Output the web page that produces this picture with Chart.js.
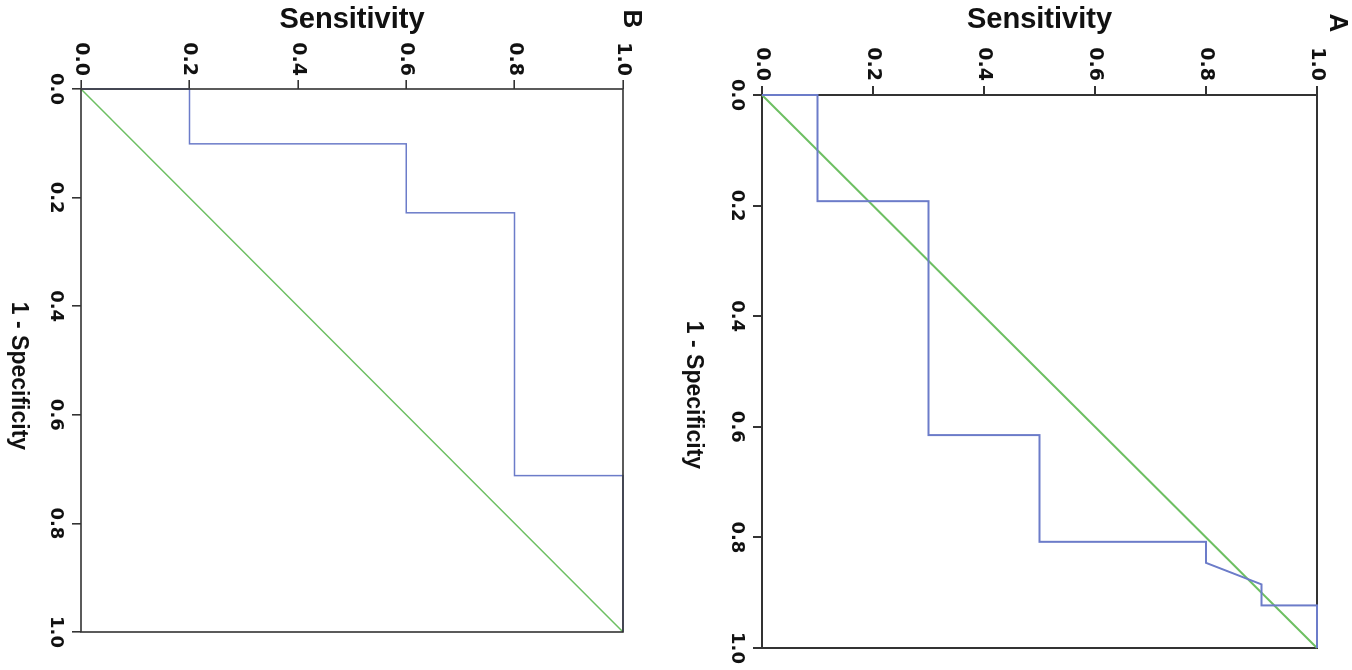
<!DOCTYPE html>
<html>
<head>
<meta charset="utf-8">
<title>ROC curves A and B</title>
<script src="https://cdn.jsdelivr.net/npm/chart.js@4.4.1/dist/chart.umd.min.js"></script>
<style>
  html, body { margin: 0; padding: 0; background: #fff; }
  body { width: 1352px; height: 670px; position: relative; overflow: hidden; }
  /* the whole figure is turned a quarter turn clockwise */
  .panel { position: absolute; top: 0; transform-origin: 0 0; transform: rotate(90deg); }
  .panel canvas { display: block; }
</style>
</head>
<body>
<div class="panel" style="left:660px; width:670px; height:660px;"><canvas id="rocB" width="670" height="660"></canvas></div>
<div class="panel" style="left:1352px; width:670px; height:682px;"><canvas id="rocA" width="670" height="682"></canvas></div>
<script>
const tickValues = [0, 0.2, 0.4, 0.6, 0.8, 1.0];
const diagonalX = [0, 1];
const diagonalY = [0, 1];

// Panel A: 1 - specificity / sensitivity
const fprA = [0, 0, 0.192, 0.192, 0.615, 0.615, 0.808, 0.808, 0.846, 0.885, 0.923, 0.923, 1];
const sensA = [0, 0.1, 0.1, 0.3, 0.3, 0.5, 0.5, 0.8, 0.8, 0.9, 0.9, 1.0, 1.0];

// Panel B
const fprB = [0, 0, 0.101, 0.101, 0.228, 0.228, 0.712, 0.712, 1];
const sensB = [0, 0.2, 0.2, 0.6, 0.6, 0.8, 0.8, 1.0, 1.0];

const toPoints = (xs, ys) => xs.map((x, i) => ({ x: x, y: ys[i] }));

function drawFrame(chart, opts) {
    const { ctx, chartArea: a } = chart;
    ctx.save();
    ctx.strokeStyle = '#333';
    ctx.lineWidth = opts.frameWidth;
    ctx.strokeRect(a.left, a.top, a.right - a.left, a.bottom - a.top);
    ctx.restore();
}

// frame round the plot, the x title and the panel letter
const rocDecor = {
    id: 'rocDecor',
    beforeDatasetsDraw(chart, args, opts) {
        if (!opts.frameOnTop) drawFrame(chart, opts);
    },
    afterDraw(chart, args, opts) {
        if (opts.frameOnTop) drawFrame(chart, opts);
        const { ctx } = chart;
        ctx.save();
        ctx.fillStyle = '#111';
        ctx.textAlign = 'center';
        ctx.textBaseline = 'middle';
        ctx.font = 'bold 23px "Liberation Sans", Arial, sans-serif';
        ctx.fillText('1 - Specificity', opts.titleX, opts.titleY);
        ctx.font = 'bold 26px "Liberation Sans", Arial, sans-serif';
        ctx.fillText(opts.letter, opts.letterX, opts.letterY);
        ctx.restore();
    }
};

function axisTicks(scale) {
    scale.ticks = tickValues.map(v => ({ value: v }));
}

function makeRoc(canvasId, cfg) {
    const gridStyle = { drawOnChartArea: false, tickLength: cfg.tickLength, color: '#333', lineWidth: cfg.frameWidth };
    return new Chart(document.getElementById(canvasId), {
        type: 'line',
        data: {
            datasets: [{
                data: toPoints(cfg.fpr, cfg.sens),
                borderColor: '#6c7cc9',
                borderWidth: cfg.curveWidth,
                clip: false
            }, {
                data: toPoints(diagonalX, diagonalY),
                borderColor: '#6dbf62',
                borderWidth: cfg.curveWidth,
                clip: false
            }]
        },
        options: {
            responsive: false,
            animation: false,
            devicePixelRatio: 1,
            layout: { padding: { top: cfg.padTop, right: cfg.padRight, left: 0, bottom: 0 } },
            elements: { point: { radius: 0 }, line: { tension: 0, fill: false } },
            plugins: {
                legend: { display: false },
                tooltip: { enabled: false },
                rocDecor: cfg.decor
            },
            scales: {
                x: {
                    type: 'linear',
                    min: 0,
                    max: 1,
                    afterBuildTicks: axisTicks,
                    afterFit: s => { s.height = cfg.xAxisHeight; },
                    grid: gridStyle,
                    border: { display: false },
                    ticks: {
                        padding: cfg.xTickPad,
                        color: '#111',
                        maxRotation: 0,
                        autoSkip: false,
                        font: { family: 'DejaVu Sans', weight: 'bold', size: 18 },
                        callback: v => v.toFixed(1)
                    }
                },
                y: {
                    type: 'linear',
                    min: 0,
                    max: 1,
                    afterBuildTicks: axisTicks,
                    afterFit: s => { s.width = cfg.yAxisWidth; },
                    grid: gridStyle,
                    border: { display: false },
                    ticks: {
                        padding: cfg.yTickPad,
                        color: '#111',
                        autoSkip: false,
                        font: { family: 'DejaVu Sans', weight: 'bold', size: 19 },
                        callback: v => v.toFixed(1)
                    },
                    title: {
                        display: true,
                        text: 'Sensitivity',
                        color: '#111',
                        padding: { top: 3, bottom: 0 },
                        font: { family: 'Liberation Sans', weight: 'bold', size: 29 }
                    }
                }
            }
        },
        plugins: [rocDecor]
    });
}

document.addEventListener('DOMContentLoaded', () => {
    makeRoc('rocA', {
        fpr: fprA, sens: sensA,
        padTop: 35, padRight: 22, xAxisHeight: 92, yAxisWidth: 95,
        tickLength: 9, xTickPad: 6, yTickPad: 5,
        frameWidth: 2, curveWidth: 2,
        decor: { frameWidth: 2, frameOnTop: false, titleX: 395, titleY: 659, letter: 'A', letterX: 23, letterY: 15 }
    });
    makeRoc('rocB', {
        fpr: fprB, sens: sensB,
        padTop: 37, padRight: 38, xAxisHeight: 81, yAxisWidth: 89,
        tickLength: 9, xTickPad: 6, yTickPad: 4,
        frameWidth: 1.6, curveWidth: 1.5,
        decor: { frameWidth: 1.6, frameOnTop: true, titleX: 376, titleY: 642, letter: 'B', letterX: 19, letterY: 29 }
    });
});
</script>
</body>
</html>
